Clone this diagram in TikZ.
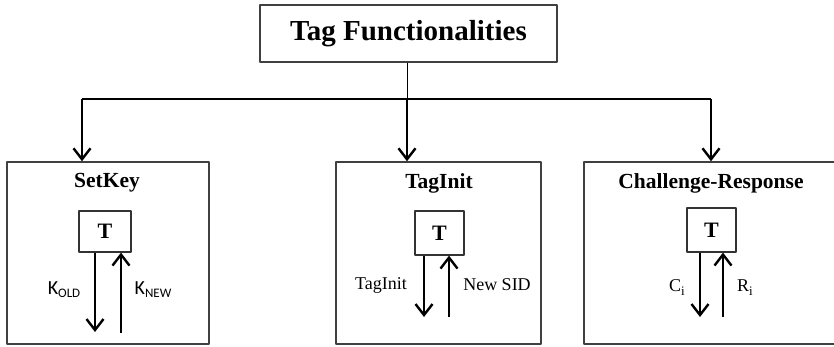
\documentclass[tikz,border=0pt]{standalone}
\usepackage{fontspec}
\setmainfont{Liberation Serif}
\newfontfamily\calfont{Carlito}
\usetikzlibrary{arrows.meta,positioning}

\begin{document}
\begin{tikzpicture}[x=1pt,y=-1pt,line join=round,
  box/.style={draw=black!75,line width=1.5pt,inner sep=0pt},
  tbox/.style={draw=black!80,line width=1.2pt,inner sep=0pt,font=\fontsize{22}{24}\selectfont\bfseries},
  hd/.style={font=\fontsize{21.5}{24}\selectfont\bfseries},
  lab/.style={font=\fontsize{18}{20}\selectfont},
  arr/.style={line width=2.4pt,-{Straight Barb[length=11pt,width=17pt,line width=2.4pt]}}]
\clip (0,0) rectangle (834,347);
% title and the three parts
\node[box,minimum width=297pt,minimum height=57pt,font=\fontsize{29}{32}\selectfont\bfseries] (tf) at (408.5,33.5) {Tag Functionalities};
\node[box,minimum width=202pt,minimum height=182pt] (sk) at (108,253) {};
\node[box,minimum width=205pt,minimum height=182pt] (ti) at (438.5,253) {};
\node[box,minimum width=260pt,minimum height=182pt] (cr) at (714,253) {};
\node[hd] (skh) at (107,183) {SetKey};
\node[hd] (tih) at (439,183) {TagInit};
\node[hd] (crh) at (711,183) {Challenge-Response};
% tree lines
\coordinate (j) at (407,99);
\coordinate (jl) at (82,99);
\coordinate (jr) at (711,99);
\draw[line width=1pt] (tf.south -| j) -- (j);
\draw[line width=1.5pt] (jl) -- (jr);
\draw[arr] (jl) -- (jl |- sk.north);
\draw[arr] (j) -- (j |- ti.north);
\draw[arr] (jr) -- (jr |- cr.north);
% tags
\node[tbox,minimum width=52pt,minimum height=41pt] (t1) at (105,231.5) {T};
\node[tbox,minimum width=49pt,minimum height=44pt] (t2) at (439.5,233) {T};
\node[tbox,minimum width=49pt,minimum height=44pt] (t3) at (711.5,230) {T};
\coordinate (d1) at (95,332);  \coordinate (u1) at (121,333);
\coordinate (d2) at (424,317); \coordinate (u2) at (449,317);
\coordinate (d3) at (700,317); \coordinate (u3) at (723,317);
\foreach \i in {1,2,3}{
  \draw[arr] (t\i.south -| d\i) -- (d\i);
  \draw[arr] (u\i) -- (u\i |- t\i.south);
}
% messages
\node[lab,font=\calfont\fontsize{20}{22}\selectfont] (kold) at (64,290) {K\raisebox{-3pt}{\fontsize{13}{14}\selectfont OLD}};
\node[lab,font=\calfont\fontsize{20}{22}\selectfont] (knew) at (153,290) {K\raisebox{-3pt}{\fontsize{13}{14}\selectfont NEW}};
\node[lab] (tim) at (381,285) {TagInit};
\node[lab] (sid) at (497,285) {New SID};
\node[lab] (ci) at (677,288) {C\raisebox{-4pt}{\fontsize{13}{14}\selectfont i}};
\node[lab] (ri) at (745,288) {R\raisebox{-4pt}{\fontsize{13}{14}\selectfont i}};
\end{tikzpicture}
\end{document}
